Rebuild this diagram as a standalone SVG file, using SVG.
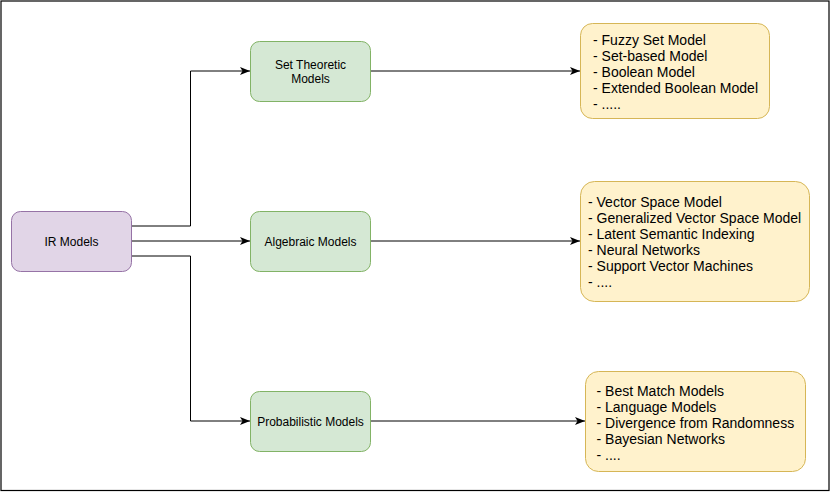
<svg xmlns="http://www.w3.org/2000/svg" width="830" height="493" viewBox="0 0 830 493">
<defs>
<marker id="arr" viewBox="0 0 10 8" refX="10" refY="4" markerWidth="10" markerHeight="8" markerUnits="userSpaceOnUse" orient="auto">
<path d="M0,0 L10,4 L0,8 L2.5,4 Z" fill="#000"/>
</marker>
</defs>
<style>
.ir{fill:#e1d5e7;stroke:#9673a6;stroke-width:1}
.g{fill:#d5e8d4;stroke:#82b366;stroke-width:1}
.y{fill:#fff2cc;stroke:#d6b656;stroke-width:1}
.lbl{font-family:"Liberation Sans",Arial,sans-serif;font-size:12px;fill:#000;text-anchor:middle}
.lst{font-family:"Liberation Sans",Arial,sans-serif;font-size:14px;fill:#000}
.c{fill:none;stroke:#000;stroke-width:1;marker-end:url(#arr)}
</style>
<rect x="1" y="1" width="828" height="489.5" fill="#fff" stroke="#000" stroke-width="1.2"/>
<g id="connectors">
<path class="c" d="M131.5,226 H190.5 V71 H250"/>
<path class="c" d="M131.5,241 H250"/>
<path class="c" d="M131.5,256 H190.5 V421 H250"/>
<path class="c" d="M370.5,71 H580"/>
<path class="c" d="M370.5,241 H580"/>
<path class="c" d="M370.5,421 H585"/>
</g>
<g id="ir-models">
<rect class="ir" x="11.5" y="211.5" width="120" height="60" rx="9"/>
<text class="lbl" x="71.5" y="246">IR Models</text>
</g>
<g id="set-theoretic">
<rect class="g" x="250.5" y="41.5" width="120" height="60" rx="9"/>
<text class="lbl" x="310.5" y="69">Set Theoretic</text>
<text class="lbl" x="310.5" y="83">Models</text>
</g>
<g id="algebraic">
<rect class="g" x="250.5" y="211.5" width="120" height="60" rx="9"/>
<text class="lbl" x="310.5" y="246">Algebraic Models</text>
</g>
<g id="probabilistic">
<rect class="g" x="250.5" y="391.5" width="120" height="60" rx="9"/>
<text class="lbl" x="310.5" y="426">Probabilistic Models</text>
</g>
<g id="set-list">
<rect class="y" x="580.5" y="23.5" width="189" height="95" rx="12"/>
<text class="lst" x="593" y="45">- Fuzzy Set Model</text>
<text class="lst" x="593" y="61">- Set-based Model</text>
<text class="lst" x="593" y="77">- Boolean Model</text>
<text class="lst" x="593" y="93">- Extended Boolean Model</text>
<text class="lst" x="593" y="109">- .....</text>
</g>
<g id="algebraic-list">
<rect class="y" x="580.5" y="181.5" width="229" height="120" rx="14"/>
<text class="lst" x="588" y="207">- Vector Space Model</text>
<text class="lst" x="588" y="223">- Generalized Vector Space Model</text>
<text class="lst" x="588" y="239">- Latent Semantic Indexing</text>
<text class="lst" x="588" y="255">- Neural Networks</text>
<text class="lst" x="588" y="271">- Support Vector Machines</text>
<text class="lst" x="588" y="287">- ....</text>
</g>
<g id="probabilistic-list">
<rect class="y" x="585.5" y="371.5" width="220" height="100" rx="13"/>
<text class="lst" x="596.5" y="396">- Best Match Models</text>
<text class="lst" x="596.5" y="412">- Language Models</text>
<text class="lst" x="596.5" y="428">- Divergence from Randomness</text>
<text class="lst" x="596.5" y="444">- Bayesian Networks</text>
<text class="lst" x="596.5" y="460">- ....</text>
</g>
</svg>
